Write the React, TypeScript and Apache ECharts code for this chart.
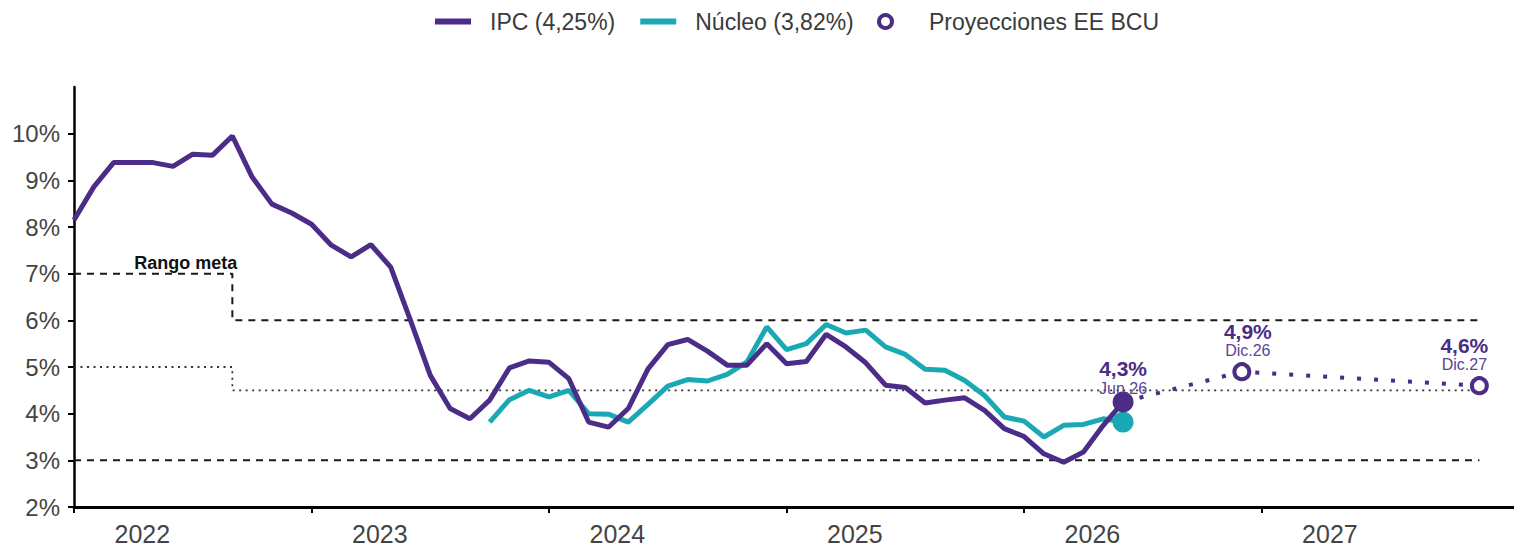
import React, { useEffect, useRef } from 'react';
import * as echarts from 'echarts';

const START_YEAR = 2022;
const YEAR_TICKS = [0, 12, 24, 36, 48, 60];
const YEAR_LABEL_POS = [3.45, 15.45, 27.45, 39.45, 51.45, 63.45];
const Y_TICKS = [2, 3, 4, 5, 6, 7, 8, 9, 10];

// IPC monthly (Jan 2022 .. Jun 2026)
const IPC = [
  8.15, 8.86, 9.38, 9.38, 9.38, 9.3, 9.56, 9.54, 9.95, 9.07, 8.49, 8.3,
  8.06, 7.61, 7.36, 7.62, 7.14, 6.0, 4.82, 4.11, 3.89, 4.29, 4.98, 5.13,
  5.1, 4.75, 3.82, 3.71, 4.11, 4.96, 5.48, 5.59, 5.34, 5.04, 5.04, 5.5,
  5.07, 5.12, 5.7, 5.43, 5.09, 4.61, 4.56, 4.23, 4.29, 4.34, 4.07, 3.68,
  3.51, 3.14, 2.96, 3.18, 3.75, 4.25,
];
// Núcleo monthly (Oct 2023 .. Jun 2026)
const NUCLEO_START = 21;
const NUCLEO = [
  3.82, 4.3, 4.5, 4.36, 4.5, 4.0, 3.99, 3.82, 4.2, 4.59, 4.73, 4.7,
  4.84, 5.11, 5.86, 5.37, 5.5, 5.91, 5.73, 5.79, 5.43, 5.27, 4.95, 4.93,
  4.71, 4.39, 3.93, 3.84, 3.5, 3.75, 3.77, 3.89, 3.82,
];
// Projections
const PROJ_X = [53, 59, 71];
const PROJ = [4.25, 4.9, 4.6];
const PROJ_VALUE_LABELS = ['4,3%', '4,9%', '4,6%'];
const PROJ_DATE_LABELS = ['Jun.26', 'Dic.26', 'Dic.27'];

// Target range
const RANGE_UPPER = [[0, 7], [8, 7], [8, 6], [71, 6]];
const RANGE_CENTER = [[0, 5], [8, 5], [8, 4.5], [71, 4.5]];
const RANGE_LOWER = [[0, 3], [71, 3]];
const RANGE_LABEL_POS = [5.65, 7];

const PURPLE = '#4B2C87';
const TEAL = '#1AA9B4';
const TEXT = '#444444';
const FONT = '"Liberation Sans", Arial, sans-serif';

const rich = {
  v: { fontSize: 21, fontWeight: 'bold', color: PURPLE, fontFamily: FONT, lineHeight: 22, align: 'center' },
  d: { fontSize: 16, color: '#5B4494', fontFamily: FONT, lineHeight: 17, align: 'center' },
};

function projLabel(k: number) {
  return `{v|${PROJ_VALUE_LABELS[k]}}\n{d|${PROJ_DATE_LABELS[k]}}`;
}

export default function App() {
  const ref = useRef<HTMLDivElement>(null);

  useEffect(() => {
    document.body.style.margin = '0';
    if (!ref.current) return;
    const chart = echarts.init(ref.current, undefined, { renderer: 'svg' });

    const ipcData = IPC.map((v, i) =>
      i === IPC.length - 1
        ? {
            value: [i, v],
            symbol: 'circle',
            symbolSize: 21,
            label: { show: true, position: 'top', distance: -5, formatter: projLabel(0), rich },
          }
        : { value: [i, v] }
    );
    const nucData = NUCLEO.map((v, j) =>
      j === NUCLEO.length - 1
        ? { value: [NUCLEO_START + j, v], symbol: 'circle', symbolSize: 21 }
        : { value: [NUCLEO_START + j, v] }
    );
    const projData = PROJ_X.map((x, k) =>
      k === 0
        ? { value: [x, PROJ[k]], symbol: 'none' }
        : {
            value: [x, PROJ[k]],
            label: {
              show: true,
              position: 'top',
              distance: 3,
              offset: k === 1 ? [6, 0] : [-15, 0],
              formatter: projLabel(k),
              rich,
            },
          }
    );

    const rangeStyle = { color: '#1a1a1a', width: 2, type: [7, 6] as any };

    chart.setOption({
      animation: false,
      textStyle: { fontFamily: FONT },
      grid: { left: 74, right: 0, top: 87, bottom: 45 },
      legend: [
        {
          left: 430,
          top: 5,
          itemWidth: 36,
          itemHeight: 6,
          itemGap: 25,
          selectedMode: false,
          textStyle: { fontSize: 23, color: '#3a3a3a', fontFamily: FONT, padding: [0, 0, 0, 14] },
          data: [
            { name: 'IPC (4,25%)', icon: 'rect' },
            { name: 'Núcleo (3,82%)', icon: 'rect' },
          ],
        },
        {
          left: 872,
          top: 5,
          itemWidth: 13,
          itemHeight: 13,
          selectedMode: false,
          itemStyle: { color: '#fff', borderColor: PURPLE, borderWidth: 4 },
          textStyle: { fontSize: 23, color: '#3a3a3a', fontFamily: FONT, padding: [0, 0, 0, 32] },
          data: [{ name: 'Proyecciones EE BCU', icon: 'circle' }],
        },
      ],
      xAxis: {
        type: 'value',
        min: 0,
        max: 72.75,
        axisLine: { show: true, lineStyle: { color: '#000', width: 3 } },
        axisTick: { show: true, customValues: YEAR_TICKS, length: 6, lineStyle: { color: '#000', width: 2 } },
        axisLabel: {
          customValues: YEAR_LABEL_POS,
          formatter: (v: number) => String(START_YEAR + Math.floor(v / 12)),
          fontSize: 25,
          color: TEXT,
          margin: 14,
        },
        splitLine: { show: false },
      },
      yAxis: {
        type: 'value',
        min: 2,
        max: 11,
        interval: 1,
        axisLine: { show: true, lineStyle: { color: '#000', width: 2.5 } },
        axisTick: { show: true, customValues: Y_TICKS, length: 6, lineStyle: { color: '#000', width: 2 } },
        axisLabel: {
          customValues: Y_TICKS,
          formatter: (v: number) => `${v}%`,
          fontSize: 24,
          color: TEXT,
          margin: 14,
        },
        splitLine: { show: false },
      },
      series: [
        {
          type: 'line',
          data: RANGE_UPPER,
          symbol: 'none',
          silent: true,
          lineStyle: rangeStyle,
          z: 1,
          markPoint: {
            symbol: 'rect',
            symbolSize: 1,
            itemStyle: { color: 'rgba(0,0,0,0)' },
            label: {
              show: true,
              position: 'top',
              distance: 1,
              formatter: 'Rango meta',
              fontSize: 18,
              fontWeight: 'bold',
              color: '#111',
            },
            data: [{ coord: RANGE_LABEL_POS }],
          },
        },
        { type: 'line', data: RANGE_LOWER, symbol: 'none', silent: true, lineStyle: rangeStyle, z: 1 },
        {
          type: 'line',
          data: RANGE_CENTER,
          symbol: 'none',
          silent: true,
          lineStyle: { color: '#333', width: 1.8, type: [2, 4.5] as any },
          z: 1,
        },
        {
          name: 'Núcleo (3,82%)',
          type: 'line',
          data: nucData,
          symbol: 'none',
          showSymbol: true,
          color: TEAL,
          itemStyle: { color: TEAL },
          lineStyle: { color: TEAL, width: 5 },
          z: 3,
        },
        {
          name: 'IPC (4,25%)',
          type: 'line',
          data: ipcData,
          symbol: 'none',
          showSymbol: true,
          color: PURPLE,
          itemStyle: { color: PURPLE },
          lineStyle: { color: PURPLE, width: 5 },
          z: 4,
        },
        {
          name: 'Proyecciones EE BCU',
          type: 'line',
          data: projData,
          symbol: 'circle',
          symbolSize: 15,
          showSymbol: true,
          color: PURPLE,
          itemStyle: { color: '#fff', borderColor: PURPLE, borderWidth: 4 },
          lineStyle: { color: PURPLE, width: 4, type: [4, 13] as any, cap: 'butt' },
          z: 5,
        },
      ],
    });

    return () => chart.dispose();
  }, []);

  return <div ref={ref} style={{ width: 1514, height: 552 }} />;
}
